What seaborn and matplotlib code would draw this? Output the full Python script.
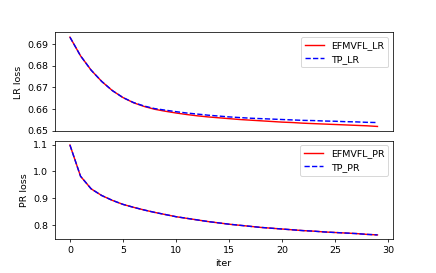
import numpy as np
import matplotlib
matplotlib.use("Agg")
import matplotlib.pyplot as plt
import seaborn as sns

# datos
iters = list(range(30))

efmvfl_lr = [0.6931, 0.6845, 0.6779, 0.6727, 0.6685, 0.6653, 0.6629, 0.6612, 0.6599, 0.6590,
             0.6582, 0.6575, 0.6569, 0.6564, 0.6560, 0.6556, 0.6552, 0.6549, 0.6546, 0.6543,
             0.6540, 0.6538, 0.6535, 0.6533, 0.6531, 0.6529, 0.6527, 0.6525, 0.6523, 0.6520]
tp_lr = [0.6931, 0.6845, 0.6779, 0.6727, 0.6685, 0.6653, 0.6630, 0.6614, 0.6602, 0.6595,
         0.6588, 0.6582, 0.6577, 0.6572, 0.6568, 0.6564, 0.6561, 0.6558, 0.6556, 0.6554,
         0.6552, 0.6550, 0.6548, 0.6547, 0.6545, 0.6544, 0.6542, 0.6541, 0.6539, 0.6538]

efmvfl_pr = [1.0986, 0.982, 0.935, 0.910, 0.892, 0.877, 0.866, 0.856, 0.847, 0.839,
             0.831, 0.825, 0.819, 0.813, 0.808, 0.803, 0.799, 0.795, 0.791, 0.788,
             0.785, 0.782, 0.779, 0.777, 0.774, 0.772, 0.770, 0.768, 0.765, 0.763]
tp_pr = list(efmvfl_pr)

fig, (ax1, ax2) = plt.subplots(2, 1, figsize=(6.4, 4.005), dpi=68.2)
fig.subplots_adjust(left=0.125, right=0.9, top=0.881, bottom=0.123, hspace=0.094)

#LR
sns.lineplot(x=iters, y=efmvfl_lr, color="r", label="EFMVFL_LR", ax=ax1)
sns.lineplot(x=iters, y=tp_lr, color="b", linestyle="--", label="TP_LR", ax=ax1)
ax1.set_ylabel("LR loss")
ax1.set_xlim(-1.45, 30.45)
ax1.set_ylim(0.6498, 0.6953)
ax1.tick_params(axis="x", bottom=False, labelbottom=False)
ax1.legend(loc="upper right")

#PR
sns.lineplot(x=iters, y=efmvfl_pr, color="r", label="EFMVFL_PR", ax=ax2)
sns.lineplot(x=iters, y=tp_pr, color="b", linestyle="--", label="TP_PR", ax=ax2)
ax2.set_ylabel("PR loss")
ax2.set_xlabel("iter")
ax2.set_xlim(-1.45, 30.45)
ax2.legend(loc="upper right")

fig.savefig("out.png", dpi=68.2)
